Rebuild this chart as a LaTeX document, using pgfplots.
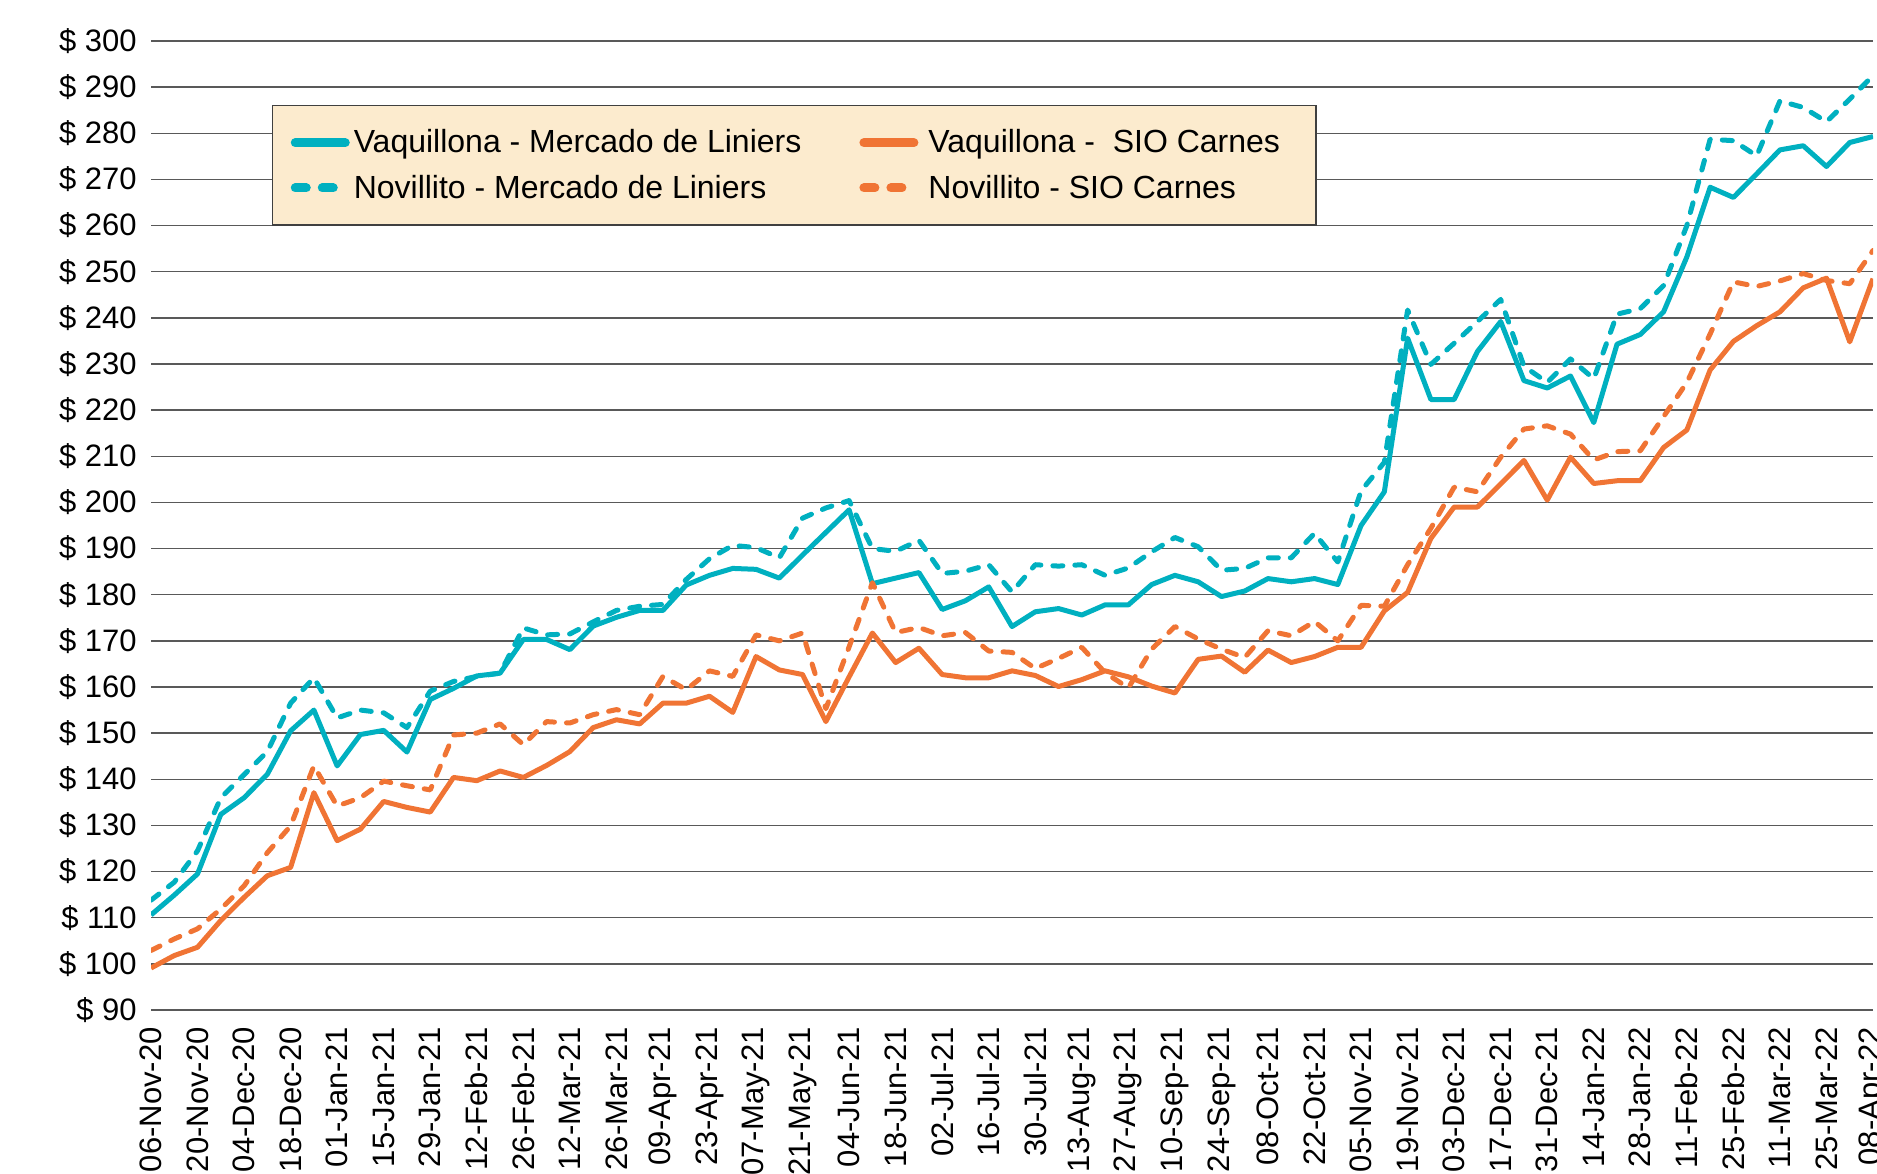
\documentclass[border=0pt]{standalone}
\usepackage{pgfplots}
\pgfplotsset{compat=1.18}
\usepackage{pgfplotstable}
\usepackage{fontspec}
\setmainfont{Liberation Sans}
\definecolor{tealc}{RGB}{0,176,192}
\definecolor{orngc}{RGB}{240,116,52}
\definecolor{lfill}{RGB}{252,235,206}

\pgfplotstableread{
i vl nl vs ns
0 110.6 113.8 99.1 102.9
1 114.9 117.7 101.8 105.4
2 119.5 124.5 103.6 107.6
3 132.4 136.0 109.4 111.9
4 136.0 141.0 114.4 116.9
5 141.1 146.0 119.1 124.1
6 150.5 156.5 120.9 129.9
7 155.0 162.0 137.1 142.9
8 142.9 153.3 126.7 134.2
9 149.7 155.0 129.2 136.0
10 150.6 154.4 135.2 139.6
11 145.9 151.2 133.9 138.6
12 157.3 159.1 132.9 137.7
13 159.7 161.2 140.4 149.6
14 162.4 162.3 139.7 150.0
15 163.0 163.0 141.8 152.0
16 170.3 172.8 140.4 147.5
17 170.3 171.3 143.0 152.5
18 168.1 171.5 146.0 152.2
19 173.2 174.1 151.2 154.0
20 175.1 176.6 152.9 155.1
21 176.6 177.5 152.0 154.0
22 176.6 177.9 156.5 162.3
23 182.1 183.3 156.5 159.4
24 184.2 187.8 158.0 163.5
25 185.7 190.7 154.5 162.3
26 185.5 190.2 166.6 171.3
27 183.6 188.0 163.7 170.0
28 188.6 196.6 162.7 171.7
29 193.5 198.8 152.5 155.3
30 198.4 200.4 162.2 168.7
31 182.4 190.0 171.7 182.6
32 183.6 189.4 165.3 171.8
33 184.8 191.8 168.4 172.9
34 176.8 184.6 162.7 171.1
35 178.7 185.1 162.0 171.8
36 181.7 186.5 162.0 167.8
37 173.1 180.6 163.5 167.5
38 176.3 186.5 162.5 164.0
39 177.0 186.2 160.1 166.2
40 175.6 186.5 161.6 168.6
41 177.8 184.2 163.5 163.1
42 177.8 185.8 162.2 159.8
43 182.2 189.3 160.2 168.2
44 184.2 192.4 158.7 173.1
45 182.8 190.4 166.0 170.4
46 179.6 185.3 166.7 168.2
47 180.8 185.7 163.2 166.4
48 183.5 188.0 168.0 172.2
49 182.8 188.0 165.3 171.1
50 183.5 193.3 166.6 174.2
51 182.2 187.1 168.6 170.0
52 195.0 202.5 168.6 177.7
53 202.3 208.7 176.5 177.5
54 235.6 241.7 180.5 186.5
55 222.3 229.9 192.2 194.4
56 222.3 234.5 199.0 203.3
57 232.7 239.2 199.0 202.3
58 239.2 244.0 204.0 209.8
59 226.4 229.5 209.1 215.9
60 224.8 226.0 200.5 216.6
61 227.4 231.1 209.8 214.8
62 217.3 226.8 204.1 209.2
63 234.3 240.8 204.7 211.0
64 236.4 242.0 204.7 211.2
65 241.3 247.0 211.9 218.6
66 253.2 260.0 215.7 226.0
67 268.3 278.7 228.7 236.5
68 266.1 278.4 234.9 247.8
69 271.2 275.1 238.3 246.8
70 276.4 287.0 241.3 248.0
71 277.3 285.6 246.5 249.6
72 272.8 282.5 248.6 248.1
73 278.0 287.4 234.8 247.4
74 279.3 292.5 248.5 254.6
}\data

\pgfplotsset{
 solidleg/.style={legend image code/.code={\draw[##1, line width=4.5pt, solid, line cap=round] (2pt,0pt) -- (27pt,0pt);}},
 dashleg/.style={legend image code/.code={\draw[##1, line width=4.5pt, line cap=round, dash pattern=on 5.5pt off 8pt] (2pt,0pt) -- (27pt,0pt);}},
}

\begin{document}
\begin{tikzpicture}
\useasboundingbox (0,0) rectangle (938.5pt,586.5pt);
\begin{axis}[
 at={(75.5pt,81.5pt)}, anchor=south west,
 scale only axis, width=861pt, height=484.5pt,
 xmin=0, xmax=74, ymin=90, ymax=300,
 axis line style={draw=none},
 major tick length=0pt,
 ytick={90,100,...,300},
 ymajorgrids,
 grid style={black!65, line width=0.7pt},
 xtick={0,2,...,74},
 xticklabels={06-Nov-20,20-Nov-20,04-Dec-20,18-Dec-20,01-Jan-21,15-Jan-21,29-Jan-21,12-Feb-21,26-Feb-21,12-Mar-21,26-Mar-21,09-Apr-21,23-Apr-21,07-May-21,21-May-21,04-Jun-21,18-Jun-21,02-Jul-21,16-Jul-21,30-Jul-21,13-Aug-21,27-Aug-21,10-Sep-21,24-Sep-21,08-Oct-21,22-Oct-21,05-Nov-21,19-Nov-21,03-Dec-21,17-Dec-21,31-Dec-21,14-Jan-22,28-Jan-22,11-Feb-22,25-Feb-22,11-Mar-22,25-Mar-22,08-Apr-22},
 tick label style={font=\fontsize{15.5}{18}\selectfont},
 xticklabel style={yshift=-8.5pt, rotate=90, anchor=east, inner sep=0pt},
 yticklabel style={anchor=east, inner sep=0pt, xshift=-7pt},
 yticklabel={\$ \pgfmathprintnumber[assume math mode=true]{\tick}},
 legend columns=2,
 legend cell align=left,
 legend style={at={(0.0703,0.934)}, anchor=north west, fill=lfill, draw=black!75, line width=0.7pt,
   font=\fontsize{16}{19}\selectfont, inner xsep=9pt, inner ysep=10pt, row sep=5.5pt,
   /tikz/every even column/.append style={column sep=27pt}},
]
\addplot[tealc, line width=2.5pt, line join=round, solidleg] table[x=i, y=vl] {\data};
\addlegendentry{Vaquillona - Mercado de Liniers}
\addplot[orngc, line width=2.5pt, line join=round, solidleg] table[x=i, y=vs] {\data};
\addlegendentry{\hspace*{3pt}Vaquillona -\ \ SIO Carnes\hspace*{7pt}}
\addplot[tealc, line width=2.5pt, line join=round, line cap=round, dash pattern=on 5pt off 6pt, dashleg] table[x=i, y=nl] {\data};
\addlegendentry{Novillito - Mercado de Liniers}
\addplot[orngc, line width=2.5pt, line join=round, line cap=round, dash pattern=on 5pt off 6pt, dashleg] table[x=i, y=ns] {\data};
\addlegendentry{\hspace*{3pt}Novillito - SIO Carnes}
\end{axis}
\end{tikzpicture}
\end{document}
